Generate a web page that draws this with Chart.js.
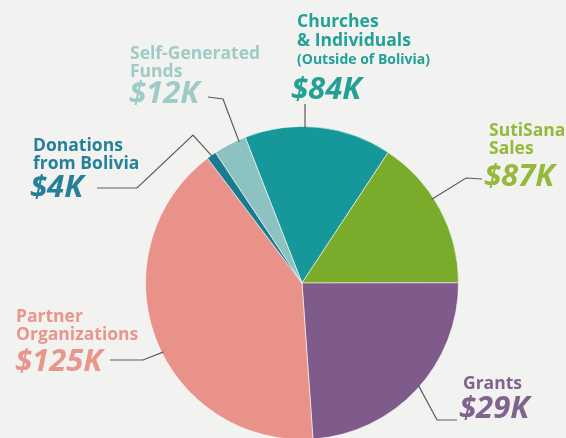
<!DOCTYPE html>
<html>
<head>
<meta charset="utf-8">
<script src="https://cdn.jsdelivr.net/npm/chart.js@4.4.1/dist/chart.umd.min.js"></script>
<style>
  html, body { margin: 0; padding: 0; background: #f2f2f1; overflow: hidden; }
  #wrap { position: relative; width: 566px; height: 438px; overflow: hidden; }
  canvas { position: absolute; left: 0; top: 0; }
</style>
</head>
<body>
<div id="wrap"><canvas id="pie" width="566" height="442"></canvas></div>
<script>
// income sources, clockwise starting from the top
const sources = ['Churches & Individuals', 'SutiSana Sales', 'Grants', 'Partner Organizations', 'Donations from Bolivia', 'Self-Generated Funds'];
const amounts = ['$84K', '$87K', '$29K', '$125K', '$4K', '$12K'];
// share of the circle each slice takes in the picture (percent)
const sliceShares = [15.2, 15.7, 23.9, 40.8, 1.0, 3.4];
const labelLines = [
  ['Churches', '& Individuals', '(Outside of Bolivia)'],
  ['SutiSana', 'Sales'],
  ['Grants'],
  ['Partner', 'Organizations'],
  ['Donations', 'from Bolivia'],
  ['Self-Generated', 'Funds']
];

const sliceColors = ['#16979a', '#7aab2b', '#7e5b8b', '#e8928a', '#1b7b8e', '#8cc3c1'];
const textColors = ['#23a197', '#94b93b', '#80648e', '#e9968c', '#27809a', '#9fcbc7'];

// where each label sits (baselines), and the leader line's path up to the pie
const labelLayout = [
  { x: 297, ys: [27, 46, 64], amountX: 291, amountY: 99, path: [[305, 104]], at: 0.41 },
  { x: 489, ys: [136, 154], amountX: 484, amountY: 186, path: [[482, 179], [466, 178]], at: 0.42 },
  { x: 463, ys: [389], amountX: 459, amountY: 418, path: [[457, 420], [437, 420]], at: 0.48 },
  { x: 16, ys: [322, 340], amountX: 15, amountY: 371, path: [[110, 360], [143, 360]], at: 0.46 },
  { x: 33, ys: [151, 169], amountX: 30, amountY: 197, path: [[97, 188], [137, 188], [193, 135]], at: 0.5 },
  { x: 130, ys: [59, 77], amountX: 129, amountY: 103, path: [[208, 97], [223, 99]], at: 0.78 }
];

const labelPlugin = {
  id: 'sourceLabels',
  afterDraw(chart) {
    const ctx = chart.ctx;
    const arcs = chart.getDatasetMeta(0).data;
    ctx.save();
    arcs.forEach((arc, i) => {
      const lay = labelLayout[i];
      const p = arc.getProps(['x', 'y', 'startAngle', 'endAngle', 'outerRadius'], true);
      const a = p.startAngle + lay.at * (p.endAngle - p.startAngle);
      // leader line
      ctx.beginPath();
      ctx.strokeStyle = '#5a5a5a';
      ctx.lineWidth = 1.2;
      ctx.moveTo(lay.path[0][0], lay.path[0][1]);
      lay.path.slice(1).forEach(pt => ctx.lineTo(pt[0], pt[1]));
      ctx.lineTo(p.x + Math.cos(a) * (p.outerRadius - 2), p.y + Math.sin(a) * (p.outerRadius - 2));
      ctx.stroke();

      // text
      ctx.fillStyle = textColors[i];
      ctx.textBaseline = 'alphabetic';
      ctx.textAlign = 'left';
      labelLines[i].forEach((line, j) => {
        const small = line.startsWith('(');
        ctx.font = small ? 'bold 14px "Open Sans"' : 'bold 17.5px "Open Sans"';
        ctx.fillText(line, lay.x, lay.ys[j]);
      });
      ctx.font = 'italic bold 31px "Open Sans"';
      ctx.fillText(amounts[i], lay.amountX, lay.amountY);
    });
    ctx.restore();
  }
};

new Chart(document.getElementById('pie'), {
  type: 'pie',
  data: {
    labels: sources,
    datasets: [{
      data: sliceShares,
      backgroundColor: sliceColors,
      borderColor: 'rgba(255,255,255,0.55)',
      borderWidth: 1
    }]
  },
  options: {
    responsive: false,
    animation: false,
    rotation: -21.3,
    layout: { padding: { left: 145, right: 107, top: 126, bottom: 2 } },
    plugins: {
      legend: { display: false },
      tooltip: { enabled: false }
    }
  },
  plugins: [labelPlugin]
});
</script>
</body>
</html>
